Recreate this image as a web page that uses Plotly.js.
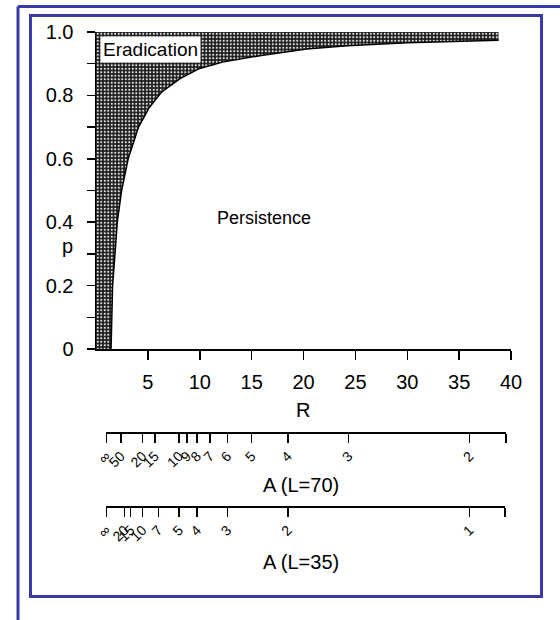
<!DOCTYPE html>
<html>
<head>
<meta charset="utf-8">
<script src="https://cdn.plot.ly/plotly-3.0.1.min.js"></script>
<style>
html,body{margin:0;padding:0;background:#fff;}
#chart{width:560px;height:620px;}
</style>
</head>
<body>
<div id="chart"></div>
<script>
// ---- data ----
// boundary of the eradication region (critical coverage p vs R)
var curveR = [1.45, 1.6, 1.83, 2.05, 2.47, 3.1, 4.1, 5.1, 6.3, 8.1, 10.0, 12.2, 16.1, 20.3, 24.2, 30.0, 38.8];
var curveP = [0.0, 0.2, 0.3, 0.4, 0.5, 0.6, 0.7, 0.76, 0.81, 0.853, 0.885, 0.905, 0.927, 0.946, 0.957, 0.966, 0.974];
var regionLeftR = 0;
var regionTopP = 1.0;

var xTickVals = [5, 10, 15, 20, 25, 30, 35, 40];
var yTickVals = [0, 0.2, 0.4, 0.6, 0.8, 1.0];
var yTickText = ['0', '0.2', '0.4', '0.6', '0.8', '1.0'];

// average age at infection A, with R = 1 + L / A
var L70 = 70;
var A70 = [Infinity, 50, 20, 15, 10, 9, 8, 7, 6, 5, 4, 3, 2];
var A70Text = ['\u221e', '50', '20', '15', '10', '9', '8', '7', '6', '5', '4', '3', '2'];
var L35 = 35;
var A35 = [Infinity, 20, 15, 10, 7, 5, 4, 3, 2, 1];
var A35Text = ['\u221e', '20', '15', '10', '7', '5', '4', '3', '2', '1'];

var labelEradication = 'Eradication';
var labelPersistence = 'Persistence';

// ---- build ----
function rFromA(L, A) { return isFinite(A) ? 1 + L / A : 1; }
var ax2End = 39.5, ax3End = 39.4;
var t70 = A70.map(function (a) { return rFromA(L70, a); }).concat([ax2End]);
var t70txt = A70Text.concat(['']);
var t35 = A35.map(function (a) { return rFromA(L35, a); }).concat([ax3End]);
var t35txt = A35Text.concat(['']);

var polyX = [regionLeftR].concat(curveR, [curveR[curveR.length - 1], regionLeftR, regionLeftR]);
var polyY = [0].concat(curveP, [regionTopP, regionTopP, 0]);

var font = 'Liberation Sans, Arial, sans-serif';
var traces = [
  {
    x: polyX, y: polyY, mode: 'none', fill: 'toself',
    fillcolor: '#2a2a2a',
    fillpattern: {shape: '.', bgcolor: '#1a1a1a', fgcolor: '#e0e0e0', size: 3.5, solidity: 0.3},
    hoverinfo: 'skip', showlegend: false
  },
  {
    x: curveR, y: curveP, mode: 'lines', line: {color: '#000', width: 1.5},
    hoverinfo: 'skip', showlegend: false
  },
  {x: [t70[0]], y: [0], xaxis: 'x2', yaxis: 'y', mode: 'markers', marker: {opacity: 0}, hoverinfo: 'skip', showlegend: false},
  {x: [t35[0]], y: [0], xaxis: 'x3', yaxis: 'y', mode: 'markers', marker: {opacity: 0}, hoverinfo: 'skip', showlegend: false}
];

// plot area: x 96..511 px, y 32..506 px
var PX0 = 96, PW = 415, PY0 = 32, PH = 474;
function px(x) { return (x - PX0) / PW; }
function py(y) { return (PY0 + PH - y) / PH; }

var frameColor = '#3a3aa6';
var shapes = [
  {type: 'line', xref: 'paper', yref: 'paper', x0: px(18), x1: px(562), y0: py(6.5), y1: py(6.5), line: {color: frameColor, width: 3}},
  {type: 'line', xref: 'paper', yref: 'paper', x0: px(18), x1: px(18), y0: py(6.5), y1: py(625), line: {color: frameColor, width: 3}},
  {type: 'rect', xref: 'paper', yref: 'paper', x0: px(30.5), x1: px(541.5), y0: py(15.5), y1: py(596.5), line: {color: frameColor, width: 3}, fillcolor: 'rgba(0,0,0,0)'}
];

var axBase = {showgrid: false, zeroline: false, showline: true, linecolor: '#000', linewidth: 1.5,
  ticks: 'outside', ticklen: 9, tickwidth: 1.5, tickcolor: '#000'};

function ann(text, xref, x, yref, y, size, extra) {
  return Object.assign({text: text, xref: xref, x: x, yref: yref, y: y, xanchor: 'center', yanchor: 'middle',
    showarrow: false, font: {size: size, family: font, color: '#000'}}, extra || {});
}

var layout = {
  width: 560, height: 620,
  margin: {l: PX0, r: 560 - PX0 - PW, t: PY0, b: 620 - PY0 - PH},
  paper_bgcolor: '#fff', plot_bgcolor: 'rgba(0,0,0,0)',
  font: {family: font, color: '#000'},
  showlegend: false,
  xaxis: Object.assign({}, axBase, {
    range: [0, 40], domain: [0, 1], anchor: 'y',
    tickmode: 'array', tickvals: xTickVals, ticklabelstandoff: 5,
    tickfont: {size: 20, family: font}
  }),
  yaxis: Object.assign({}, axBase, {
    range: [0, 1], domain: [py(349), 1], anchor: 'x', ticklen: 8,
    tickmode: 'array', tickvals: yTickVals, ticktext: yTickText, ticklabelstandoff: 9,
    tickfont: {size: 20, family: font},
    minor: {tickmode: 'linear', tick0: 0, dtick: 0.1, ticks: 'outside', ticklen: 8, tickwidth: 1.5, tickcolor: '#000'}
  }),
  xaxis2: Object.assign({}, axBase, {
    range: [1, ax2End], domain: [1 / 40, ax2End / 40], anchor: 'free', position: py(432),
    tickmode: 'array', tickvals: t70, ticktext: t70txt, tickangle: -45,
    tickfont: {size: 14, family: font}
  }),
  xaxis3: Object.assign({}, axBase, {
    range: [1, ax3End], domain: [1 / 40, ax3End / 40], anchor: 'free', position: 0,
    tickmode: 'array', tickvals: t35, ticktext: t35txt, tickangle: -45,
    tickfont: {size: 14, family: font}
  }),
  shapes: shapes,
  annotations: [
    ann(labelEradication, 'x', 0.35, 'y', 0.988, 19, {xanchor: 'left', yanchor: 'top', bgcolor: '#fff', borderpad: 2}),
    ann(labelPersistence, 'x', 16.24, 'y', 0.413, 18),
    ann('p', 'paper', px(67), 'y', 0.325, 20),
    ann('R', 'paper', px(303), 'paper', py(410), 20),
    ann('A (L=70)', 'paper', px(300.5), 'paper', py(485), 20),
    ann('A (L=35)', 'paper', px(300.5), 'paper', py(562), 20)
  ]
};

Plotly.newPlot('chart', traces, layout, {displayModeBar: false, staticPlot: true});
</script>
</body>
</html>
